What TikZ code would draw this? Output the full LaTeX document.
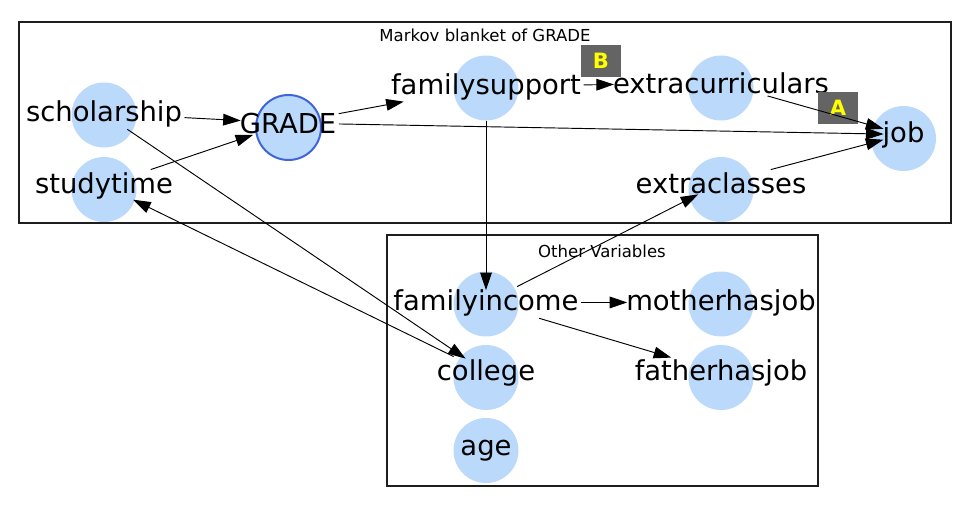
\documentclass[tikz,border=0pt]{standalone}
\usepackage{fontspec}
\setmainfont{DejaVu Sans}
\usepackage{tikz}
\usetikzlibrary{arrows.meta, calc}
\definecolor{bubblue}{RGB}{187,217,251}
\definecolor{gradeblue}{RGB}{62,100,220}
\definecolor{tagfill}{RGB}{100,100,100}
\definecolor{tagtext}{RGB}{255,255,0}
\definecolor{boxline}{RGB}{30,30,30}
\tikzset{
  bubble/.style={circle, fill=bubblue, minimum size=1.95cm, inner sep=0pt},
  varlbl/.style={anchor=base, inner sep=2pt,
    font=\fontsize{23.4}{26}\selectfont},
  grouplbl/.style={anchor=base, inner sep=1pt,
    font=\fontsize{14.1}{16}\selectfont},
  tag/.style={rectangle, fill=tagfill, text=tagtext,
    minimum width=1.2cm, minimum height=0.96cm, inner sep=0pt,
    font=\fontsize{18}{20}\selectfont\bfseries},
  group/.style={draw=boxline, line width=1.2pt},
  link/.style={-{Triangle[length=15pt, width=10pt]}, line width=0.8pt,
    color=black, shorten >=-3pt}
}

\begin{document}
\begin{tikzpicture}[x=0.03cm, y=-0.03cm]
  \useasboundingbox (0,0) rectangle (970,505);
  % Groups
  \draw[group] (19,22) rectangle (951,223);
  \node[grouplbl] (mbtitle) at (485,41) {Markov blanket of GRADE};
  \draw[group] (387,235) rectangle (818,486);
  \node[grouplbl] (othertitle) at (602,257) {Other Variables};

  % Variables
  \foreach \n/\x/\cy/\by/\t in {schol/104/115/121/scholarship,
      study/104/189.5/193/studytime,
      fsup/486/88/94/familysupport,
      extcur/721/88/93/extracurriculars,
      job/903.5/138.5/142/job,
      extcls/721/189.5/193/extraclasses,
      finc/486/304/310/familyincome,
      mjob/721/304/310/motherhasjob,
      coll/486/377.5/380/college,
      fjob/721/377.5/380/fatherhasjob,
      age/486/450.5/455/age} {
    \node[bubble] (\n-c) at (\x,\cy) {};
    \node[varlbl] (\n) at (\x,\by) {\t};
  }
  % Target variable
  \node[bubble, draw=gradeblue, line width=1.7pt] (grade-c) at (288.5,127.5) {};
  \node[varlbl] (grade) at (288,133) {GRADE};

  % Tags
  \node[tag] (tagB) at (601,61) {B};
  \node[tag] (tagA) at (838,108) {A};

  % Links
  \draw[link] (schol) -- (grade);
  \draw[link] (study) -- (grade);
  \draw[link] (grade) -- (fsup);
  \draw[link] (grade) -- (job);
  \draw[link] (fsup) -- (extcur);
  \draw[link] (extcur) -- (job);
  \draw[link] (extcls) -- (job);
  \draw[link] (fsup-c) -- (finc);
  \draw[link] (schol) -- (coll);
  \draw[link] (coll) -- (study);
  \draw[link] (finc) -- (extcls);
  \draw[link] (finc) -- (mjob);
  \draw[link] (finc) -- (fjob);
\end{tikzpicture}
\end{document}
